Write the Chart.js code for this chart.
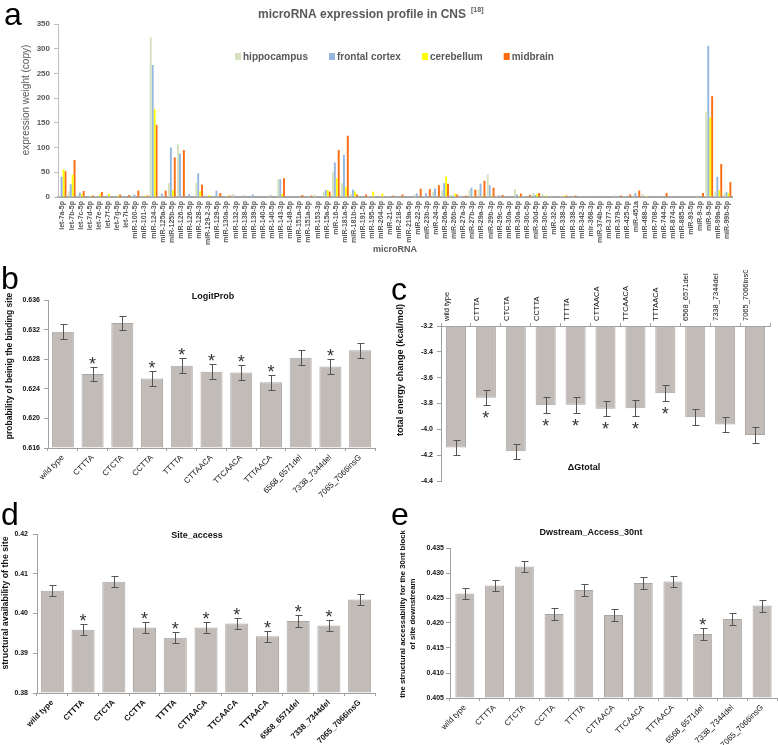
<!DOCTYPE html>
<html>
<head>
<meta charset="utf-8">
<script src="https://cdn.jsdelivr.net/npm/chart.js"></script>
<style>
  body { margin: 0; background: #fff; width: 778px; height: 745px; position: relative; overflow: hidden;
         font-family: 'Liberation Sans', Arial, sans-serif; }
  canvas { position: absolute; }
  .tag { position: absolute; font-size: 32px; line-height: 32px; color: #000; }
</style>
</head>
<body>
<canvas id="chartA" width="778" height="262" style="left:0;top:0"></canvas>
<canvas id="chartB" width="390" height="230" style="left:0;top:270px"></canvas>
<canvas id="chartC" width="388" height="230" style="left:390px;top:270px"></canvas>
<canvas id="chartD" width="390" height="245" style="left:0;top:500px"></canvas>
<canvas id="chartE" width="388" height="245" style="left:390px;top:500px"></canvas>
<div class="tag" style="left:4px;top:-2px">a</div>
<div class="tag" style="left:1px;top:262px">b</div>
<div class="tag" style="left:391px;top:273px">c</div>
<div class="tag" style="left:1px;top:498px">d</div>
<div class="tag" style="left:391px;top:498px">e</div>
<script>
// ---- panel a: microRNA expression in CNS ----
const mirnaLabels = ['let-7a-5p','let-7b-5p','let-7c-5p','let-7d-5p','let-7e-5p','let-7f-5p','let-7g-5p','let-7i-5p',
  'miR-100-5p','miR-101-3p','miR-124-3p','miR-125a-5p','miR-125b-5p','miR-126-3p','miR-126-5p','miR-128-3p',
  'miR-129-2-3p','miR-129-5p','miR-130a-3p','miR-132-3p','miR-138-5p','miR-139-5p','miR-140-3p','miR-140-5p',
  'miR-143-3p','miR-149-5p','miR-151a-3p','miR-151a-5p','miR-153-3p','miR-15a-5p','miR-16-5p','miR-181a-5p',
  'miR-181b-5p','miR-191-5p','miR-195-5p','miR-204-5p','miR-21-5p','miR-218-5p','miR-219a-5p','miR-22-3p',
  'miR-23b-3p','miR-24-3p','miR-26a-5p','miR-26b-5p','miR-27a-3p','miR-27b-3p','miR-29a-3p','miR-29b-3p',
  'miR-29c-3p','miR-30a-3p','miR-30a-5p','miR-30c-5p','miR-30d-5p','miR-30e-5p','miR-32-5p','miR-338-3p',
  'miR-338-5p','miR-342-3p','mir-368-3p','miR-374b-5p','miR-377-3p','miR-379-5p','miR-425-5p','miR-451a',
  'miR-488-3p','miR-708-5p','miR-744-5p','miR-874-3p','miR-885-5p','miR-93-5p','miR-9-3p','miR-9-5p',
  'miR-99a-5p','miR-99b-5p'];
const hippocampus = [2,11,3,1,2,1,1,1, 2,3,323,2,28,107,1,29, 4,1,1,7,1,1,1,4, 36,1,1,1,5,10,50,28,
  6,1,2,1,2,1,1,5, 2,10,14,4,3,14,15,46, 3,1,16,2,8,6,3,2, 1,1,1,1,1,3,2,3, 6,1,1,0,1,1,3,172, 11,8];
const frontalCortex = [41,26,9,2,1,3,1,1, 5,1,267,7,100,88,6,48, 1,13,1,3,3,5,1,3, 36,2,1,2,1,14,70,85,
  15,1,1,1,1,1,1,7, 8,17,28,3,1,19,27,24, 3,1,5,1,4,1,1,1, 1,2,2,1,0,1,1,8, 1,0,2,0,2,2,1,306, 41,10];
const cerebellum = [56,45,6,2,5,6,3,1, 1,3,178,1,14,1,0,12, 4,1,2,1,0,0,0,1, 6,0,0,0,1,14,38,20,
  11,1,11,7,1,1,1,1, 1,1,41,7,1,2,3,3, 1,1,2,1,6,3,0,3, 1,0,0,0,0,0,0,1, 2,0,0,1,0,0,1,161, 14,8];
const midbrain = [52,75,12,3,10,1,5,4, 13,3,146,13,80,95,1,25, 1,8,3,1,1,1,1,1, 38,1,4,3,1,11,95,124,
  5,5,1,1,3,5,1,17, 16,24,27,5,3,15,33,19, 4,1,7,4,8,1,1,3, 3,1,0,0,1,3,5,13, 1,1,8,1,0,1,8,204, 67,30];
const tissueNames = ['hippocampus', 'frontal cortex', 'cerebellum', 'midbrain'];
const tissueColors = ['#d6e2bd', '#95b7e0', '#ffff00', '#fb6d10'];

// ---- panels b-e: variants ----
const variantLabels = ['wild type','CTTTA','CTCTA','CCTTA','TTTTA','CTTAACA','TTCAACA','TTTAACA',
  '6568_6571del','7338_7344del','7065_7066insG'];

const logitProb    = [0.6317,0.6260,0.6329,0.6254,0.6271,0.6263,0.6262,0.6249,0.6282,0.6270,0.6292];
const logitProbErr = [0.001,0.001,0.001,0.001,0.001,0.001,0.001,0.001,0.001,0.001,0.001];
const logitProbSig = [0,1,0,1,1,1,1,1,0,1,0];

const dGtotal    = [-4.14,-3.755,-4.17,-3.813,-3.81,-3.84,-3.836,-3.72,-3.906,-3.963,-4.043];
const dGtotalErr = [0.06,0.06,0.06,0.06,0.06,0.06,0.06,0.06,0.06,0.06,0.06];
const dGtotalSig = [0,1,0,1,1,1,1,1,0,0,0];

const siteAccess    = [0.4057,0.3959,0.4080,0.3965,0.3939,0.3965,0.3975,0.3943,0.3981,0.3970,0.4035];
const siteAccessErr = [0.0014,0.0014,0.0014,0.0014,0.0014,0.0014,0.0014,0.0014,0.0014,0.0014,0.0014];
const siteAccessSig = [0,1,0,1,1,1,1,1,1,1,0];

const dwAccess    = [0.4259,0.4275,0.4313,0.4218,0.4266,0.4216,0.4280,0.4283,0.4178,0.4208,0.4235];
const dwAccessErr = [0.0012,0.0012,0.0012,0.0012,0.0012,0.0012,0.0012,0.0012,0.0012,0.0012,0.0012];
const dwAccessSig = [0,0,0,0,0,0,0,0,1,0,0];

Chart.defaults.font.family = "'Liberation Sans', Arial, sans-serif";
Chart.defaults.color = '#111';

// free text drawn on the canvas (titles, rotated axis titles)
function textPlugin(items) {
  return {
    id: 'texts',
    afterDraw(chart) {
      const ctx = chart.ctx;
      items.forEach(t => {
        ctx.save();
        ctx.font = t.font;
        ctx.fillStyle = t.color || '#111';
        ctx.textAlign = t.align || 'center';
        ctx.textBaseline = 'middle';
        ctx.translate(t.x, t.y);
        if (t.rot) ctx.rotate(-Math.PI / 2);
        ctx.fillText(t.text, 0, 0);
        ctx.restore();
      });
    }
  };
}

// error bars + significance stars, positioned with the y scale
function errorPlugin(values, errs, sig, below) {
  return {
    id: 'errbars',
    afterDatasetsDraw(chart) {
      const ctx = chart.ctx, y = chart.scales.y;
      const bars = chart.getDatasetMeta(0).data;
      ctx.save();
      ctx.strokeStyle = '#555';
      ctx.lineWidth = 1;
      bars.forEach((bar, i) => {
        const top = Math.round(y.getPixelForValue(values[i] + errs[i])) + 0.5;
        const bot = Math.round(y.getPixelForValue(values[i] - errs[i])) + 0.5;
        const x = Math.round(bar.x) + 0.5;
        ctx.beginPath();
        ctx.moveTo(x, top); ctx.lineTo(x, bot);
        ctx.moveTo(x - 3, top); ctx.lineTo(x + 4, top);
        ctx.moveTo(x - 3, bot); ctx.lineTo(x + 4, bot);
        ctx.stroke();
        if (sig[i]) {
          ctx.fillStyle = '#333';
          ctx.font = "18px 'Liberation Sans', Arial";
          ctx.textAlign = 'center';
          ctx.textBaseline = 'alphabetic';
          ctx.fillText('*', bar.x, below ? bot + 18 : top + 2);
        }
      });
      ctx.restore();
    }
  };
}

// title with superscript reference + legend for panel a
const headerA = {
  id: 'headerA',
  afterDraw(chart) {
    const ctx = chart.ctx;
    ctx.save();
    ctx.fillStyle = '#595959';
    ctx.textBaseline = 'middle';
    ctx.textAlign = 'left';
    ctx.font = "bold 12px 'Liberation Sans', Arial";
    const main = 'microRNA expression profile in CNS';
    ctx.fillText(main, 258, 15);
    const w = ctx.measureText(main).width;
    ctx.font = "bold 7px 'Liberation Sans', Arial";
    ctx.fillText('[18]', 258 + w + 5, 10);
    // legend
    ctx.font = "bold 10px 'Liberation Sans', Arial";
    let x = 235;
    chart.data.datasets.forEach(ds => {
      ctx.fillStyle = ds.backgroundColor;
      ctx.fillRect(x, 53, 6, 7);
      ctx.fillStyle = '#595959';
      ctx.fillText(ds.label, x + 8, 57);
      x += 8 + ctx.measureText(ds.label).width + 21;
    });
    ctx.restore();
  }
};

const tissueData = [hippocampus, frontalCortex, cerebellum, midbrain];

new Chart(document.getElementById('chartA'), {
  type: 'bar',
  data: {
    labels: mirnaLabels,
    datasets: tissueData.map((d, i) => ({
      label: tissueNames[i], data: d, backgroundColor: tissueColors[i], borderWidth: 0,
      categoryPercentage: 0.85, barPercentage: 1
    }))
  },
  options: {
    responsive: false, animation: false, events: [],
    layout: { padding: { left: 0, right: 46, top: 24, bottom: 0 } },
    plugins: { legend: { display: false }, tooltip: { enabled: false } },
    scales: {
      x: {
        afterFit: s => { s.height = 65; },
        grid: { display: false, drawTicks: false },
        border: { color: '#a6a6a6', width: 2 },
        ticks: { autoSkip: false, minRotation: 90, maxRotation: 90, padding: 4, color: '#595959',
                 font: { size: 7, weight: 'bold' } },
        title: { display: true, text: 'microRNA', color: '#595959', font: { size: 9, weight: 'bold' },
                 padding: { top: 0, bottom: 7 } }
      },
      y: {
        min: 0, max: 350,
        afterFit: s => { s.width = 58; },
        grid: { drawOnChartArea: false, tickLength: 4, color: '#bfbfbf' },
        border: { color: '#bfbfbf' },
        ticks: { stepSize: 50, padding: 4, color: '#595959', font: { size: 8, weight: 'bold' } }
      }
    }
  },
  plugins: [headerA, textPlugin([
    { text: 'expression weight (copy)', x: 26, y: 100, rot: true, color: '#595959',
      font: "10px 'Liberation Sans', Arial" }
  ])]
});

function variantChart(id, o) {
  return new Chart(document.getElementById(id), {
    type: 'bar',
    data: {
      labels: variantLabels,
      datasets: [{
        data: o.values, base: o.base, backgroundColor: '#c2bcb9', borderColor: '#aca6a3', borderWidth: 1,
        barPercentage: o.barPct, categoryPercentage: 1
      }]
    },
    options: {
      responsive: false, animation: false, events: [],
      layout: { padding: o.padding },
      plugins: { legend: { display: false }, tooltip: { enabled: false } },
      scales: {
        x: {
          position: o.xPos || 'bottom',
          afterFit: s => { s.height = o.xHeight; },
          grid: { drawOnChartArea: false, tickLength: 3, color: '#a0a0a0' },
          border: { color: '#a0a0a0' },
          ticks: { autoSkip: false, minRotation: o.rot, maxRotation: o.rot, padding: 2, color: '#111',
                   font: { size: o.xFont || 8, weight: o.bold ? 'bold' : 'normal' } }
        },
        y: {
          min: o.min, max: o.max, beginAtZero: false,
          afterFit: s => { s.width = o.yWidth; },
          grid: { drawOnChartArea: false, tickLength: 4, color: '#a0a0a0' },
          border: { color: '#a0a0a0' },
          ticks: { stepSize: o.step, padding: o.tickPad, color: '#111', font: { size: 7, weight: 'bold' },
                   callback: v => v.toFixed(o.dec) }
        }
      }
    },
    plugins: [errorPlugin(o.values, o.errs, o.sig, o.below), textPlugin(o.texts)]
  });
}

variantChart('chartB', {
  values: logitProb, errs: logitProbErr, sig: logitProbSig, base: 0.616,
  min: 0.616, max: 0.636, step: 0.004, dec: 3, barPct: 0.74,
  padding: { left: 0, right: 15, top: 30, bottom: 0 }, yWidth: 48, xHeight: 52, rot: 45, tickPad: 4,
  texts: [
    { text: 'LogitProb', x: 213, y: 27, font: "bold 9px 'Liberation Sans', Arial" },
    { text: 'probability of beinig the binding site', x: 10, y: 96, rot: true,
      font: "bold 8.5px 'Liberation Sans', Arial" }
  ]
});

variantChart('chartC', {
  values: dGtotal, errs: dGtotalErr, sig: dGtotalSig, base: -3.2, below: true,
  min: -4.4, max: -3.2, step: 0.2, dec: 1, barPct: 0.67, xPos: 'top', xFont: 7.5,
  padding: { left: 0, right: 8, top: 0, bottom: 19 }, yWidth: 51, xHeight: 56, rot: 90, tickPad: 4,
  texts: [
    { text: '\u0394Gtotal', x: 194, y: 198, font: "bold 9px 'Liberation Sans', Arial" },
    { text: 'total energy change (kcal/mol)', x: 10, y: 100, rot: true,
      font: "bold 9.2px 'Liberation Sans', Arial" }
  ]
});

variantChart('chartD', {
  values: siteAccess, errs: siteAccessErr, sig: siteAccessSig, base: 0.38,
  min: 0.38, max: 0.42, step: 0.01, dec: 2, barPct: 0.75, bold: true,
  padding: { left: 0, right: 15, top: 34, bottom: 0 }, yWidth: 37, xHeight: 52, rot: 45, tickPad: 5,
  texts: [
    { text: 'Site_access', x: 197, y: 36, font: "bold 9px 'Liberation Sans', Arial" },
    { text: 'structural availability of the site', x: 6, y: 103, rot: true,
      font: "bold 8.9px 'Liberation Sans', Arial" }
  ]
});

variantChart('chartE', {
  values: dwAccess, errs: dwAccessErr, sig: dwAccessSig, base: 0.405,
  min: 0.405, max: 0.435, step: 0.005, dec: 3, barPct: 0.64,
  padding: { left: 0, right: 1, top: 48, bottom: 0 }, yWidth: 60, xHeight: 47, rot: 45, tickPad: 2,
  texts: [
    { text: 'Dwstream_Access_30nt', x: 201, y: 33, font: "bold 9px 'Liberation Sans', Arial" },
    { text: 'the structural accessability for the 30nt block', x: 13, y: 114, rot: true,
      font: "bold 7.8px 'Liberation Sans', Arial" },
    { text: 'of site downstream', x: 23, y: 114, rot: true,
      font: "bold 7.8px 'Liberation Sans', Arial" }
  ]
});
</script>
</body>
</html>
